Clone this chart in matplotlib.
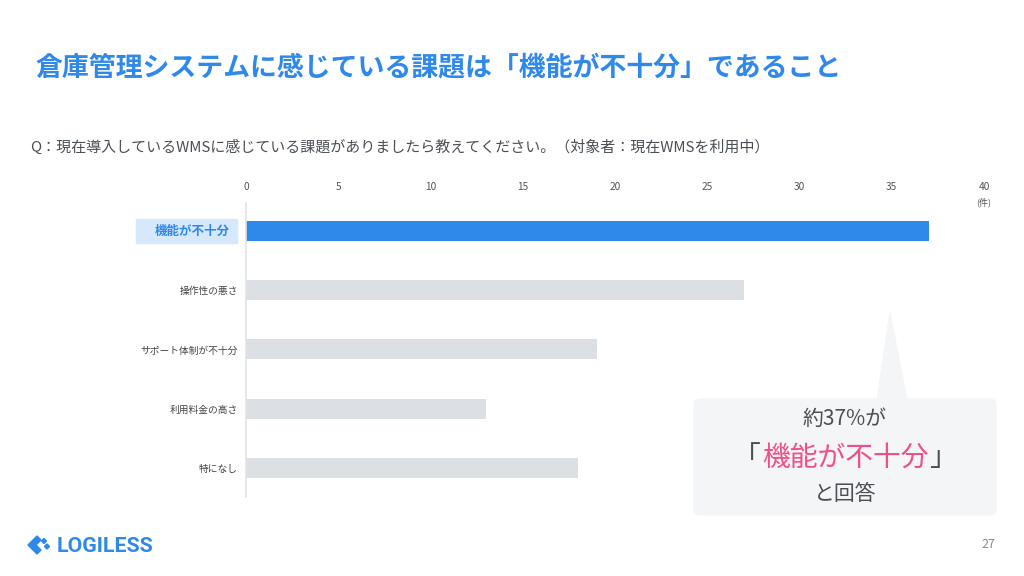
import numpy as np
import matplotlib.pyplot as plt
from matplotlib.patches import FancyBboxPatch, Polygon, Rectangle

plt.rcParams['font.family'] = ['Noto Sans CJK JP', 'DejaVu Sans']

# data
categories = ['機能が不十分', '操作性の悪さ', 'サポート体制が不十分', '利用料金の高さ', '特になし']
counts = [37, 27, 19, 13, 18]
xticks = [0, 5, 10, 15, 20, 25, 30, 35, 40]

title = '倉庫管理システムに感じている課題は「機能が不十分」であること'
question = 'Q：現在導入しているWMSに感じている課題がありましたら教えてください。（対象者：現在WMSを利用中）'

blue = '#2f89eb'
gray_bar = '#dcdfe3'
txt = '#4a4f55'

fig = plt.figure(figsize=(10.24, 5.76), dpi=100)
fig.patch.set_facecolor('white')

def fx(px):
    return px/1024

def fy(py):
    return 1-py/576

fig.text(fx(35), fy(68), title, color=blue, fontsize=19.4, fontweight='bold',
         va='center', ha='left')
fig.text(fx(30), fy(147), question, color=txt, fontsize=10.8, va='center', ha='left')

ax = fig.add_axes([fx(246), fy(497), 738/1024, 294/576])
y = np.arange(len(categories))
colors = [blue] + [gray_bar]*(len(categories)-1)
ax.barh(y, counts, height=0.34, color=colors, zorder=2)
ax.set_xlim(0, 40)
ax.set_ylim(4.49, -0.47)
ax.set_xticks(xticks)
ax.xaxis.tick_top()
ax.tick_params(axis='x', length=0, pad=8, labelsize=7.3, labelcolor='#555555')
ax.set_yticks(y)
ax.set_yticklabels([''] + categories[1:])
ax.tick_params(axis='y', length=0, pad=5.8, labelsize=7, labelcolor='#444444')
for s in ['top', 'right', 'bottom']:
    ax.spines[s].set_visible(False)
ax.spines['left'].set_color('#e3e3e3')
ax.spines['left'].set_linewidth(1.2)

# highlighted first label
fig.patches.append(Rectangle((fx(136), fy(243)), 101/1024, 24/576,
                             transform=fig.transFigure, color='#d6e8fb', zorder=0))
fig.text(fx(230), fy(231), categories[0], color=blue, fontsize=9, fontweight='bold',
         ha='right', va='center', zorder=3)

fig.text(fx(984), fy(202), '(件)', fontsize=6.5, color='#555555', ha='center', va='center')

# callout
fig.patches.append(FancyBboxPatch((fx(694), fy(515)), 302/1024, 116/576,
                                  boxstyle='round,pad=0,rounding_size=0.008',
                                  transform=fig.transFigure, color='#f4f5f7', zorder=1))
fig.patches.append(Polygon([(fx(890), fy(313)), (fx(877), fy(400)), (fx(907), fy(400))],
                           closed=True, transform=fig.transFigure, color='#f4f5f7', zorder=1))
fig.text(fx(845), fy(419), '約37%が', fontsize=15, color=txt, ha='center', va='center')
fig.text(fx(761), fy(458), '「', fontsize=20, color=txt, ha='right', va='center')
fig.text(fx(845), fy(458), '機能が不十分', fontsize=20, color='#f0508a', ha='center', va='center')
fig.text(fx(929), fy(458), '」', fontsize=20, color=txt, ha='left', va='center')
fig.text(fx(845), fy(494), 'と回答', fontsize=15, color=txt, ha='center', va='center')

# logo
def P(pts):
    fig.patches.append(Polygon([(fx(px), fy(py)) for px, py in pts], closed=True,
                               transform=fig.transFigure, color=blue))
P([(28, 545), (37, 536), (41, 540), (36, 545), (41, 550), (37, 554)])
P([(44, 538.5), (46.5, 541), (44, 543.5), (41.5, 541)])
P([(47, 544), (49.5, 546.5), (47, 549), (44.5, 546.5)])
fig.text(fx(57), fy(546), 'LOGILESS', fontsize=15.3, color=blue, fontweight='bold',
         family='Roboto', ha='left', va='center')

fig.text(fx(988), fy(545), '27', fontsize=9, color='#888888', ha='center', va='center')

fig.savefig('out.png', dpi=100)
